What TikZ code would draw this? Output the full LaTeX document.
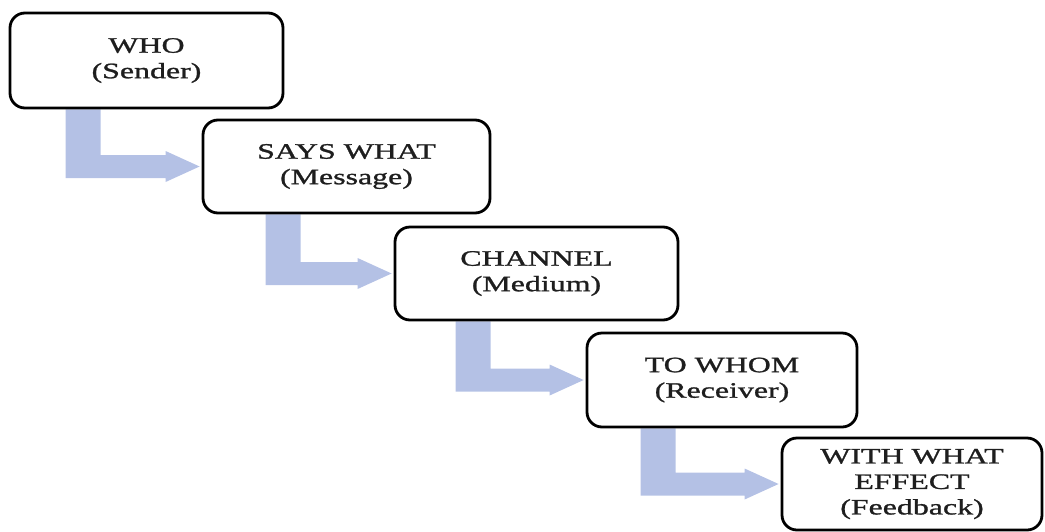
\documentclass[tikz,border=0pt]{standalone}
\usepackage{fontspec}
\newfontfamily\tfont[FakeStretch=1.45,FakeBold=1.2]{Liberation Serif}
\usetikzlibrary{calc,backgrounds}
\definecolor{flowblue}{RGB}{180,193,229}
\definecolor{inkgray}{RGB}{30,30,30}
\tikzset{
  stage/.style={draw=black, line width=2.8pt, rounded corners=15pt, fill=white,
    align=center, inner sep=0pt, text=inkgray,
    font=\tfont\fontsize{22}{25.5}\selectfont},
  flow/.style={fill=flowblue, draw=none}
}
\newcommand\lflow[3]{%
  \fill[flow] let \p1=(#1.south west), \p2=(#2.west) in
    (\x1+#3pt,\y1) -- (\x1+#3pt+35pt,\y1) -- (\x1+#3pt+35pt,\y2+11.5pt)
    -- (\x2-36pt,\y2+11.5pt) -- (\x2-36pt,\y2+15.5pt) -- (\x2-2pt,\y2)
    -- (\x2-36pt,\y2-15.5pt) -- (\x2-36pt,\y2-11.5pt) -- (\x1+#3pt,\y2-11.5pt) -- cycle;}
\begin{document}
\begin{tikzpicture}[x=1pt,y=-1pt]
\useasboundingbox (0,0) rectangle (1045,531);
\node[stage, minimum width=273pt, minimum height=95pt] (b1) at (146.5,60.5) {WHO\\(Sender)};
\node[stage, minimum width=287pt, minimum height=93pt] (b2) at (346.5,166.5) {SAYS WHAT\\(Message)};
\node[stage, minimum width=283pt, minimum height=93pt] (b3) at (536.5,273.5) {CHANNEL\\(Medium)};
\node[stage, minimum width=270pt, minimum height=94pt] (b4) at (722,380) {TO WHOM\\(Receiver)};
\node[stage, minimum width=260pt, minimum height=92pt] (b5) at (912,484) {WITH WHAT\\EFFECT\\(Feedback)};
\begin{scope}[on background layer]
\lflow{b1}{b2}{57}
\lflow{b2}{b3}{64}
\lflow{b3}{b4}{62}
\lflow{b4}{b5}{55}
\end{scope}
\end{tikzpicture}
\end{document}
